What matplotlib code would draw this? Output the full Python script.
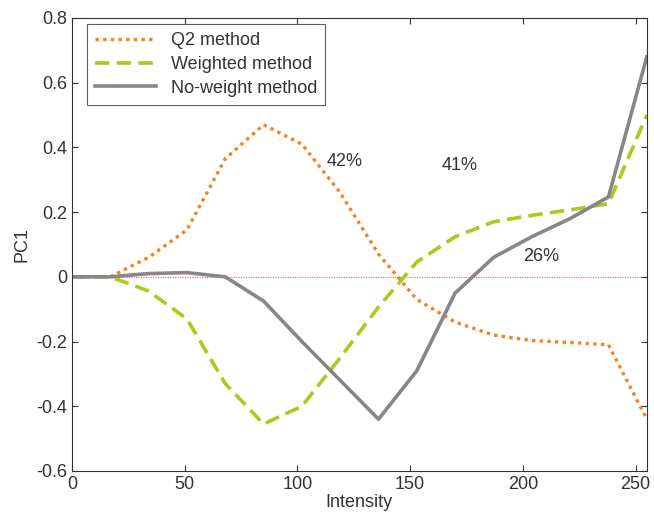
import numpy as np
import matplotlib.pyplot as plt

plt.rcParams['font.family'] = ['Liberation Sans', 'DejaVu Sans']

intensity = [0, 17, 34, 51, 68, 85, 102, 119, 136, 153, 170, 187, 204, 221, 238, 255]
q2 = [0, 0.0, 0.06, 0.145, 0.365, 0.47, 0.41, 0.26, 0.07, -0.07, -0.14, -0.18, -0.197, -0.203, -0.21, -0.44]
weighted = [0, 0.0, -0.044, -0.13, -0.33, -0.455, -0.40, -0.25, -0.093, 0.046, 0.124, 0.17, 0.19, 0.207, 0.226, 0.50]
noweight = [0, 0.0, 0.01, 0.013, 0.0, -0.075, -0.20, -0.32, -0.44, -0.29, -0.05, 0.06, 0.124, 0.18, 0.247, 0.68]
labels = ['42%', '41%', '26%']
label_x = [121, 172, 208]
label_y = [0.355, 0.345, 0.062]

fig = plt.figure(figsize=(6.54, 5.28), dpi=100)
ax = fig.add_axes([0.110, 0.108, 0.879, 0.858])

ax.axhline(0, color='#f06060', lw=0.8, linestyle=(0, (1, 1.2)), zorder=1)
ax.plot(intensity, q2, color='#f5821f', lw=2.4, linestyle=(0, (1, 1.3)), label='Q2 method')
ax.plot(intensity, weighted, color='#a6cc1e', lw=2.6, linestyle=(0, (4, 2)), label='Weighted method')
ax.plot(intensity, noweight, color='#878787', lw=2.6, label='No-weight method')

for t, x, y in zip(labels, label_x, label_y):
    ax.text(x, y, t, fontsize=13, color='#333333', ha='center', va='center')

ax.set_xlim(0, 255)
ax.set_ylim(-0.6, 0.8)
ax.set_xticks([0, 50, 100, 150, 200, 250])
ax.set_yticks(np.arange(-0.6, 0.81, 0.2))
ax.set_yticklabels(['-0.6', '-0.4', '-0.2', '0', '0.2', '0.4', '0.6', '0.8'])
ax.tick_params(direction='in', top=True, right=True, labelsize=13, colors='#333333', length=4)
for s in ax.spines.values():
    s.set_color('#333333')
    s.set_linewidth(0.8)
ax.set_xlabel('Intensity', fontsize=13, color='#333333', labelpad=1)
ax.set_ylabel('PC1', fontsize=13, color='#333333', labelpad=4)

leg = ax.legend(loc='upper left', bbox_to_anchor=(0.026, 0.987), borderaxespad=0, fontsize=13,
                fancybox=False, edgecolor='#333333', handlelength=3.4, borderpad=0.45,
                labelspacing=0.38)
leg.get_frame().set_linewidth(0.8)
for t in leg.get_texts():
    t.set_color('#333333')

fig.savefig('out.png', dpi=100)
